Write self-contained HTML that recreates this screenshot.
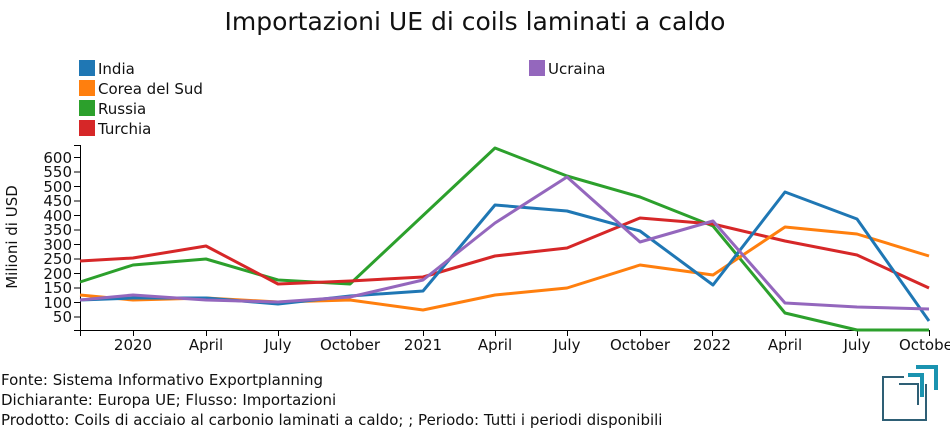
<!DOCTYPE html>
<html><head><meta charset="utf-8"><style>
body{margin:0;background:#fff;}
svg{display:block;font-family:"DejaVu Sans","Liberation Sans",sans-serif;}
</style></head><body>
<svg width="950" height="435" viewBox="0 0 950 435">
<text x="475" y="30" font-size="25" text-anchor="middle" fill="#111">Importazioni UE di coils laminati a caldo</text>
<g font-size="15" fill="#111">
<rect x="79" y="60" width="16" height="16" fill="#1f77b4"/><text x="98" y="74">India</text>
<rect x="79" y="80" width="16" height="16" fill="#ff7f0e"/><text x="98" y="94">Corea del Sud</text>
<rect x="79" y="100" width="16" height="16" fill="#2ca02c"/><text x="98" y="114">Russia</text>
<rect x="79" y="120" width="16" height="16" fill="#d62728"/><text x="98" y="134">Turchia</text>
<rect x="529" y="60" width="16" height="16" fill="#9467bd"/><text x="548" y="74">Ucraina</text>
</g>
<g stroke="#000" stroke-width="1" fill="none">
<path d="M80.5 145V330.5H930"/>
<path d="M74 157.5h6M74 172h6M74 186.5h6M74 201h6M74 215.5h6M74 230h6M74 244.5h6M74 259h6M74 273.5h6M74 288h6M74 302.5h6M74 317h6M74 330.5h6M74 145.5h6"/>
<path d="M80.5 330v6M133.5 330v6M206.5 330v6M278.5 330v6M350.5 330v6M423.5 330v6M495.5 330v6M567.5 330v6M640.5 330v6M712.5 330v6M785.5 330v6M857.5 330v6M929.5 330v6"/>
</g>
<g font-size="15" fill="#111" text-anchor="end">
<text x="72" y="163">600</text><text x="72" y="177">550</text><text x="72" y="192">500</text><text x="72" y="206">450</text><text x="72" y="221">400</text><text x="72" y="235">350</text><text x="72" y="250">300</text><text x="72" y="264">250</text><text x="72" y="279">200</text><text x="72" y="293">150</text><text x="72" y="308">100</text><text x="72" y="322">50</text>
</g>
<text transform="translate(17,237) rotate(-90)" font-size="15" fill="#111" text-anchor="middle">Milioni di USD</text>
<g font-size="15" fill="#111" text-anchor="middle">
<text x="133" y="350">2020</text><text x="206" y="350">April</text><text x="278" y="350">July</text><text x="350" y="350">October</text><text x="423" y="350">2021</text><text x="495" y="350">April</text><text x="567" y="350">July</text><text x="640" y="350">October</text><text x="712" y="350">2022</text><text x="785" y="350">April</text><text x="857" y="350">July</text><text x="929" y="350">October</text>
</g>
<g fill="none" stroke-width="3" stroke-linejoin="round">
<polyline stroke="#2ca02c" points="80,282 133,265 206,259 278,280 350,284 495,148 567,176 640,197 713,226 785,313 857,330 929,330"/>
<polyline stroke="#d62728" points="80,261 133,258 206,246 278,284 350,281 423,277 495,256 567,248 640,218 713,224 785,241 857,255 929,288"/>
<polyline stroke="#ff7f0e" points="80,295 133,300 206,298 278,302 350,300 423,310 495,295 567,288 640,265 713,275 785,227 857,234 929,256"/>
<polyline stroke="#1f77b4" points="80,300 133,298 206,298 278,304 350,296 423,291 495,205 567,211 640,231 713,285 785,192 857,219 929,321"/>
<polyline stroke="#9467bd" points="80,300 133,295 206,300 278,302 350,297 423,280 495,223 567,177 640,242 713,221 785,303 857,307 929,309"/>
</g>
<g font-size="15" fill="#111">
<text x="1" y="385">Fonte: Sistema Informativo Exportplanning</text>
<text x="1" y="405">Dichiarante: Europa UE; Flusso: Importazioni</text>
<text x="1" y="425">Prodotto: Coils di acciaio al carbonio laminati a caldo; ; Periodo: Tutti i periodi disponibili</text>
</g>
<g fill="none" stroke-linecap="square">
<path d="M903 377H883V420H926V385" stroke="#2e5f75" stroke-width="2"/>
<path d="M900 384H918V404" stroke="#2e5f75" stroke-width="2"/>
<path d="M910 375H922V395" stroke="#1a93b0" stroke-width="4"/>
<path d="M918 367H936V388" stroke="#1a93b0" stroke-width="4"/>
</g>
</svg>
</body></html>
